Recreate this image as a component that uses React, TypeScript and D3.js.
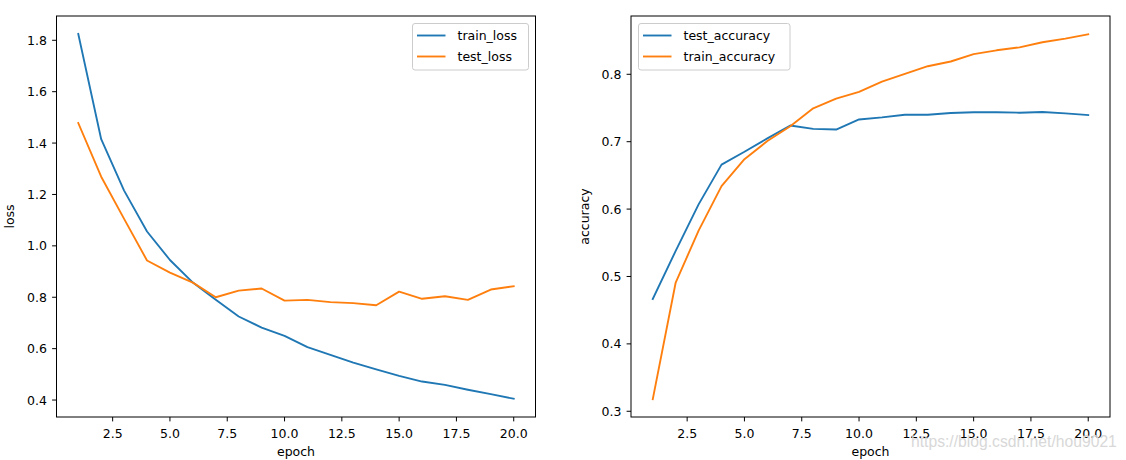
import React from "react";
import * as d3 from "d3";

const epochs = [1, 2, 3, 4, 5, 6, 7, 8, 9, 10, 11, 12, 13, 14, 15, 16, 17, 18, 19, 20];
const trainLoss = [1.825, 1.415, 1.215, 1.056, 0.945, 0.857, 0.79, 0.725, 0.682, 0.65, 0.606, 0.576, 0.546, 0.519, 0.494, 0.472, 0.459, 0.44, 0.423, 0.405];
const testLoss = [1.478, 1.269, 1.105, 0.943, 0.896, 0.857, 0.8, 0.826, 0.834, 0.787, 0.79, 0.781, 0.777, 0.769, 0.822, 0.794, 0.804, 0.79, 0.83, 0.843];
const testAccuracy = [0.4666, 0.538, 0.607, 0.666, 0.685, 0.705, 0.724, 0.719, 0.718, 0.733, 0.736, 0.74, 0.74, 0.7426, 0.7436, 0.7436, 0.743, 0.744, 0.742, 0.7396];
const trainAccuracy = [0.318, 0.491, 0.568, 0.634, 0.674, 0.701, 0.723, 0.7495, 0.764, 0.774, 0.789, 0.8005, 0.812, 0.819, 0.83, 0.8356, 0.84, 0.8475, 0.853, 0.8594];

const xTicks = [2.5, 5.0, 7.5, 10.0, 12.5, 15.0, 17.5, 20.0];
const lossTicks = [0.4, 0.6, 0.8, 1.0, 1.2, 1.4, 1.6, 1.8];
const accTicks = [0.3, 0.4, 0.5, 0.6, 0.7, 0.8];

const BLUE = "#1f77b4";
const ORANGE = "#ff7f0e";
const FONT = "DejaVu Sans";
const FS = 12.5;

type Series = { name: string; values: number[]; color: string };

function Panel(props: {
  left: number; right: number; top: number; bottom: number;
  yDomain: [number, number]; yTicks: number[]; ylabel: string; ylabelX: number;
  series: Series[]; legendX: number; legendW: number;
}) {
  const { left, right, top, bottom, yDomain, yTicks, ylabel, ylabelX, series, legendX, legendW } = props;
  const x = d3.scaleLinear().domain([0.05, 20.95]).range([left, right]);
  const y = d3.scaleLinear().domain(yDomain).range([bottom, top]);
  const line = d3.line<number>().x((_, i) => x(epochs[i])).y((d) => y(d));
  const legendY = 23.5;
  return (
    <g fontFamily={FONT} fontSize={FS} fill="#000">
      {series.map((s) => (
        <path key={s.name} d={line(s.values) || ""} fill="none" stroke={s.color} strokeWidth={1.875} strokeLinejoin="round" strokeLinecap="square" />
      ))}
      <rect x={left} y={top} width={right - left} height={bottom - top} fill="none" stroke="#000" strokeWidth={1} />
      {xTicks.map((t) => (
        <g key={"x" + t}>
          <line x1={x(t)} x2={x(t)} y1={bottom} y2={bottom + 4.4} stroke="#000" strokeWidth={1} />
          <text x={x(t)} y={bottom + 21.3} textAnchor="middle">{t.toFixed(1)}</text>
        </g>
      ))}
      {yTicks.map((t) => (
        <g key={"y" + t}>
          <line x1={left - 4.4} x2={left} y1={y(t)} y2={y(t)} stroke="#000" strokeWidth={1} />
          <text x={left - 9.5} y={y(t) + 4.55} textAnchor="end">{t.toFixed(1)}</text>
        </g>
      ))}
      <text x={(left + right) / 2} y={456} textAnchor="middle">epoch</text>
      <text transform={`translate(${ylabelX},${(top + bottom) / 2}) rotate(-90)`} textAnchor="middle">{ylabel}</text>
      <rect x={legendX} y={legendY} width={legendW} height={46.5} rx={2.5} fill="#fff" fillOpacity={0.8} stroke="#cccccc" strokeWidth={1} />
      {series.map((s, i) => (
        <g key={"l" + s.name}>
          <line x1={legendX + 4.5} x2={legendX + 33} y1={legendY + 12 + i * 21} y2={legendY + 12 + i * 21} stroke={s.color} strokeWidth={1.875} />
          <text x={legendX + 45} y={legendY + 12 + i * 21 + 4.5}>{s.name}</text>
        </g>
      ))}
    </g>
  );
}

export default function App() {
  return (
    <svg width={1126} height={460} style={{ position: "fixed", left: 0, top: 0, background: "#fff" }}>
      <rect x={0} y={0} width={1126} height={460} fill="#fff" />
      <Panel
        left={56.5} right={535.5} top={16} bottom={417}
        yDomain={[0.334, 1.8945]} yTicks={lossTicks} ylabel="loss" ylabelX={14}
        series={[
          { name: "train_loss", values: trainLoss, color: BLUE },
          { name: "test_loss", values: testLoss, color: ORANGE },
        ]}
        legendX={412.5} legendW={116}
      />
      <Panel
        left={631} right={1110} top={16} bottom={417}
        yDomain={[0.2915, 0.8865]} yTicks={accTicks} ylabel="accuracy" ylabelX={589}
        series={[
          { name: "test_accuracy", values: testAccuracy, color: BLUE },
          { name: "train_accuracy", values: trainAccuracy, color: ORANGE },
        ]}
        legendX={638.5} legendW={151.5}
      />
      <text x={911} y={446.5} fontFamily="Liberation Sans" fontSize={15.7} fill="#d8d8d8">https://blog.csdn.net/hou9021</text>
    </svg>
  );
}
